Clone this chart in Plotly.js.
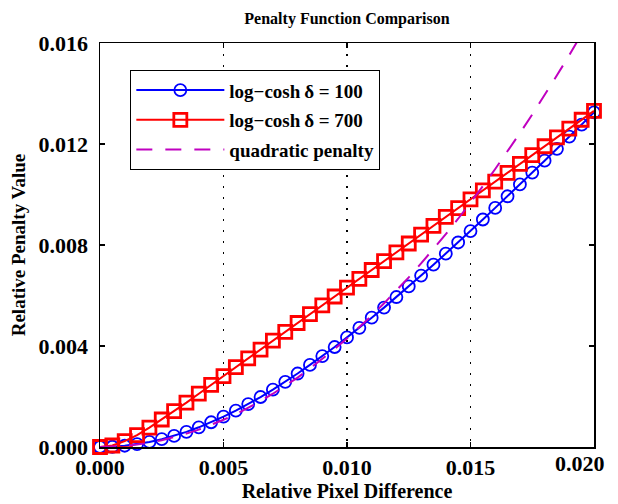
<!DOCTYPE html>
<html>
<head>
<meta charset="utf-8">
<script src="https://cdn.plot.ly/plotly-3.0.1.min.js"></script>
<style>html,body{margin:0;padding:0;background:#fff;}</style>
</head>
<body>
<div id="chart" style="width:618px;height:504px;"></div>
<script>
// Relative pixel difference (x)
var xValues = [0.0000,0.0005,0.0010,0.0015,0.0020,0.0025,0.0030,0.0035,0.0040,0.0045,
  0.0050,0.0055,0.0060,0.0065,0.0070,0.0075,0.0080,0.0085,0.0090,0.0095,
  0.0100,0.0105,0.0110,0.0115,0.0120,0.0125,0.0130,0.0135,0.0140,0.0145,
  0.0150,0.0155,0.0160,0.0165,0.0170,0.0175,0.0180,0.0185,0.0190,0.0195,0.0200];

// log-cosh, delta = 100
var logcosh100 = [0,0.00001,0.00005,0.00011,0.00020,0.00031,0.00044,0.00060,0.00078,0.00098,
  0.00120,0.00144,0.00170,0.00198,0.00227,0.00258,0.00291,0.00325,0.00360,0.00396,
  0.00434,0.00472,0.00512,0.00552,0.00594,0.00636,0.00679,0.00722,0.00766,0.00810,
  0.00855,0.00901,0.00947,0.00993,0.01040,0.01087,0.01134,0.01181,0.01229,0.01277,0.01325];

// log-cosh, delta = 700
var logcosh700 = [0,0.00006,0.00023,0.00047,0.00077,0.00109,0.00142,0.00176,0.00211,0.00246,
  0.00281,0.00316,0.00351,0.00386,0.00421,0.00456,0.00491,0.00526,0.00561,0.00596,
  0.00631,0.00666,0.00701,0.00736,0.00771,0.00806,0.00841,0.00876,0.00911,0.00946,
  0.00981,0.01016,0.01051,0.01086,0.01121,0.01156,0.01191,0.01226,0.01261,0.01296,0.01331];

// quadratic penalty
var quadratic = [0,0.00001,0.00004,0.00010,0.00017,0.00027,0.00039,0.00053,0.00069,0.00087,
  0.00108,0.00130,0.00155,0.00182,0.00211,0.00242,0.00275,0.00311,0.00348,0.00388,
  0.00430,0.00474,0.00520,0.00569,0.00619,0.00672,0.00727,0.00784,0.00843,0.00904,
  0.00968,0.01033,0.01101,0.01171,0.01243,0.01317,0.01393,0.01472,0.01552,0.01635,0.01720];

var seriesNames = ["log\u2212cosh\u2009\u03b4 = 100", "log\u2212cosh\u2009\u03b4 = 700", "quadratic penalty"];
var xTickVals = [0, 0.005, 0.010, 0.015, 0.020];
var xTickText = ["0.000", "0.005", "0.010", "0.015", "0.020"];
var yTickVals = [0, 0.004, 0.008, 0.012, 0.016];
var yTickText = ["0.000", "0.004", "0.008", "0.012", "0.016"];

var FONT = "Liberation Serif, Times New Roman, serif";
var lastIdx = xTickVals.length - 1;

var traces = [
  {x: xValues, y: logcosh100, name: seriesNames[0], type: "scatter", mode: "lines+markers",
   legendgroup: "a", cliponaxis: false,
   line: {color: "#0000ff", width: 2},
   marker: {symbol: "circle-open", size: 12, color: "#0000ff", line: {width: 1.8, color: "#0000ff"}}},
  {x: xValues, y: logcosh700, name: seriesNames[1], type: "scatter", mode: "lines+markers",
   legendgroup: "b", cliponaxis: false,
   line: {color: "#ff0000", width: 2},
   marker: {symbol: "square-open", size: 13, color: "#ff0000", line: {width: 2.8, color: "#ff0000"}}},
  {x: xValues, y: quadratic, name: seriesNames[2], type: "scatter", mode: "lines",
   legendgroup: "c", cliponaxis: true,
   line: {color: "#c000c0", width: 2, dash: "16px,13px"}}
];

var layout = {
  width: 618, height: 504,
  margin: {l: 100, r: 24, t: 43, b: 57},
  paper_bgcolor: "#ffffff", plot_bgcolor: "#ffffff",
  font: {family: FONT, color: "#000000"},
  title: {text: "<b>Penalty Function Comparison</b>", font: {family: FONT, size: 16, color: "#000"},
          x: 0.5615, xanchor: "center", y: 0.963, yanchor: "middle"},
  xaxis: {
    range: [0, 0.020], tickvals: xTickVals,
    ticktext: xTickText.map(function (t, i) { return i === lastIdx ? " " : t; }),
    showline: true, linecolor: "#000", linewidth: 1.5, mirror: "ticks",
    ticks: "inside", ticklen: 5, tickwidth: 1.2, tickcolor: "#000",
    showgrid: true, gridcolor: "#000", gridwidth: 1.3, griddash: "2px,9px",
    zeroline: false, ticklabelstandoff: 0,
    tickfont: {family: FONT, size: 22, color: "#000", weight: "bold"},
    title: {text: "<b>Relative Pixel Difference</b>", font: {family: FONT, size: 20, color: "#000"}, standoff: 4}
  },
  yaxis: {
    range: [0, 0.016], tickvals: yTickVals, ticktext: yTickText,
    showline: true, linecolor: "#000", linewidth: 1.5, mirror: "ticks",
    ticks: "inside", ticklen: 5, tickwidth: 1.2, tickcolor: "#000",
    showgrid: false, zeroline: false, ticklabelstandoff: 6,
    tickfont: {family: FONT, size: 22, color: "#000", weight: "bold"},
    title: {text: "<b>Relative Penalty Value</b>", font: {family: FONT, size: 19, color: "#000"}, standoff: 8}
  },
  annotations: [{
    x: xTickVals[lastIdx], xref: "x", y: 0, yref: "paper",
    text: xTickText[lastIdx], showarrow: false,
    xanchor: "center", yanchor: "top", xshift: -14, yshift: -2,
    font: {family: FONT, size: 22, color: "#000", weight: "bold"}
  }],
  showlegend: true,
  legend: {
    x: 0.061, y: 0.933, xanchor: "left", yanchor: "top",
    bgcolor: "#ffffff", bordercolor: "#000", borderwidth: 1.2,
    font: {family: FONT, size: 19, color: "#000", weight: "bold"},
    itemwidth: 88, tracegroupgap: 2, traceorder: "grouped"
  }
};

Plotly.newPlot("chart", traces, layout, {displayModeBar: false, staticPlot: true});
</script>
</body>
</html>
